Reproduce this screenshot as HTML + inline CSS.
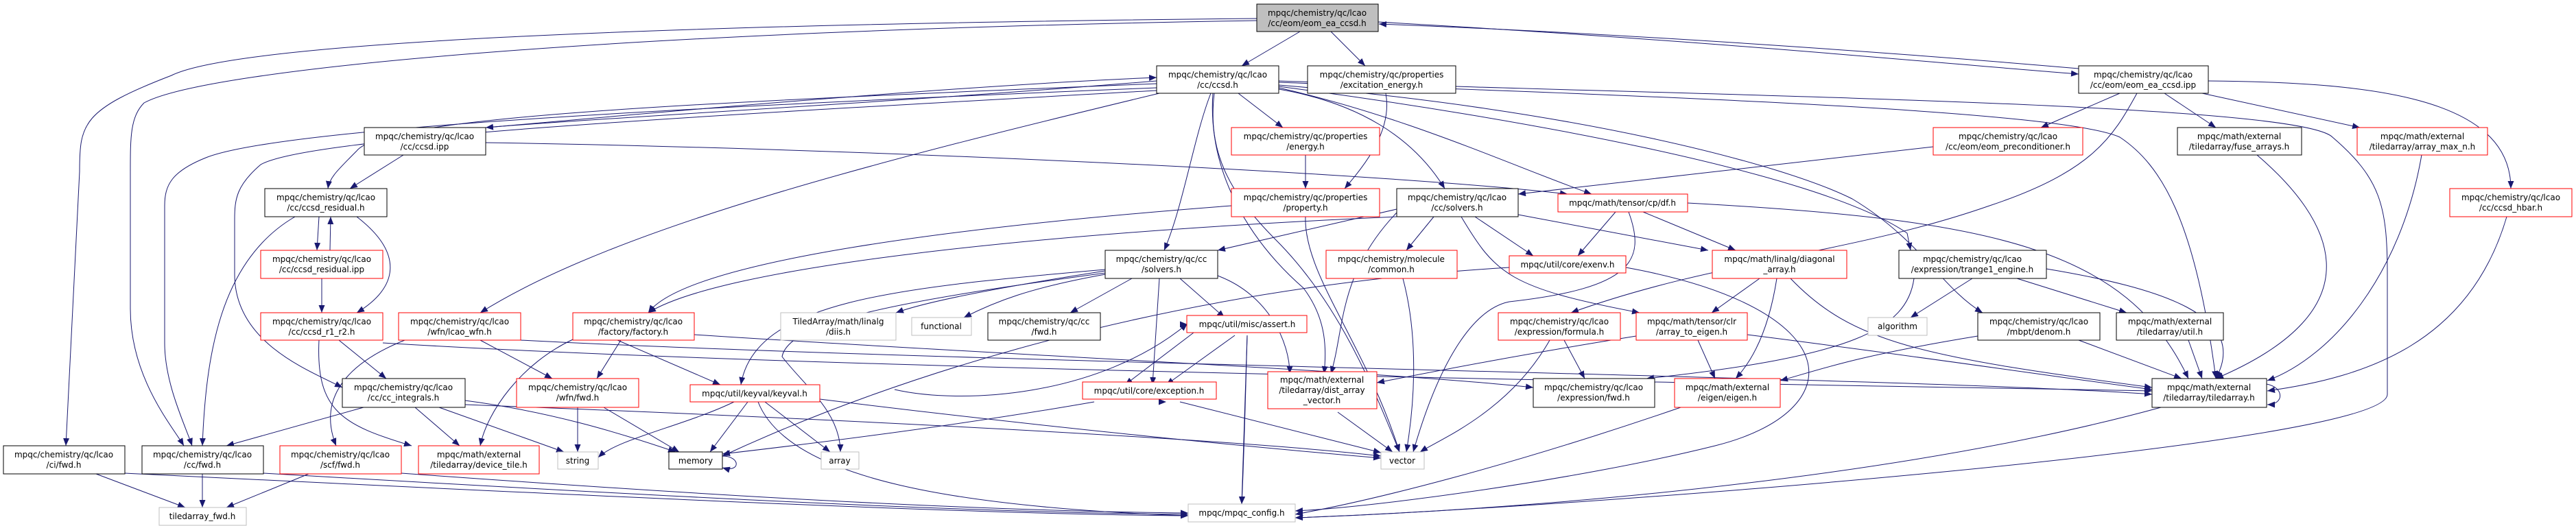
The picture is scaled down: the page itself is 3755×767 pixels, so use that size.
<!DOCTYPE html>
<html><head><meta charset="utf-8"><style>
html,body{margin:0;padding:0;background:#fff}
svg{display:block}
text{font-family:"DejaVu Sans","Liberation Sans",sans-serif;font-size:12px;fill:#000;text-anchor:middle}
.b{fill:#fff;stroke:#000;stroke-width:1}
.r{fill:#fff;stroke:#ff0000;stroke-width:1}
.g{fill:#fff;stroke:#bfbfbf;stroke-width:1}
.e path{fill:none;stroke:#191970;stroke-width:1;marker-end:url(#a)}
</style></head><body>
<svg width="3755" height="767" viewBox="0 0 3755 767" xmlns="http://www.w3.org/2000/svg">
<defs><marker id="a" markerUnits="userSpaceOnUse" markerWidth="12" markerHeight="10" refX="11" refY="4.5" orient="auto"><path d="M0,0 L11,4.5 L0,9 z" fill="#191970"/></marker></defs>
<g class="e">
<path d="M1895,46 L1810,96"/>
<path d="M1940,46 L1990,96"/>
<path d="M2009,32 C2500,60 2800,90 3030,108"/>
<path d="M3030,100 C2800,80 2400,50 2010,35"/>
<path d="M1833,27 C1000,35 350,60 250,110 C120,160 116,180 116,250 L96,650"/>
<path d="M1833,30 C900,45 300,100 210,150 C190,170 190,200 190,250 L190,450 C190,550 250,620 268,650"/>
<path d="M1686,118 C1300,150 900,170 708,186"/>
<path d="M710,186 C1000,160 1400,125 1686,113"/>
<path d="M1686,122 C1000,150 560,170 520,220 C490,250 480,260 478,275"/>
<path d="M1686,128 C900,160 400,190 300,230 C250,250 240,270 240,300 L240,500 C240,560 270,620 280,650"/>
<path d="M1686,132 C1000,170 450,200 380,240 C345,270 342,290 342,320 L342,400 C342,500 450,540 499,565"/>
<path d="M1690,136 C1300,230 900,330 700,456"/>
<path d="M1805,136 L1870,186"/>
<path d="M1864,130 C1980,150 2060,200 2106,275"/>
<path d="M1864,128 C2050,170 2200,240 2320,283"/>
<path d="M1765,136 C1740,200 1725,300 1697,365"/>
<path d="M1864,126 C2200,170 2650,250 2780,340 L2785,365"/>
<path d="M1864,124 C2300,160 2600,240 2700,290 C2800,350 2830,420 2890,456"/>
<path d="M1864,120 C2400,140 3000,160 3090,200 C3150,240 3200,320 3230,552"/>
<path d="M1770,136 C1760,220 1790,280 1860,350 C1950,440 2000,560 2040,659"/>
<path d="M1768,136 C1760,250 1820,350 1900,420 C1930,460 1935,500 1930,545"/>
<path d="M1864,118 C2500,140 3350,150 3400,200 C3470,260 3480,300 3480,400 L3480,575 C3480,650 2300,740 1888,755"/>
<path d="M588,226 L510,275"/>
<path d="M708,208 C1200,215 2000,250 2285,283"/>
<path d="M465,316 L462,365"/>
<path d="M481,365 L482,316"/>
<path d="M520,316 C590,370 580,420 520,456"/>
<path d="M430,316 C320,380 300,520 295,650"/>
<path d="M469,406 L469,456"/>
<path d="M494,496 L563,552"/>
<path d="M465,496 C460,600 500,620 600,650"/>
<path d="M558,500 C1200,540 2600,560 3137,570"/>
<path d="M700,496 L805,552"/>
<path d="M590,496 C480,540 470,600 490,650"/>
<path d="M759,496 C1400,530 2800,550 3137,575"/>
<path d="M905,496 L870,552"/>
<path d="M900,496 L1050,561"/>
<path d="M835,495 C760,530 710,600 700,650"/>
<path d="M1012,488 C1500,520 2000,540 2235,565"/>
<path d="M2020,136 C2030,190 1990,240 1960,275"/>
<path d="M1903,226 L1903,275"/>
<path d="M1903,316 C1900,400 1990,500 2040,659"/>
<path d="M1795,300 C1400,330 1000,380 945,456"/>
<path d="M3090,136 L2975,186"/>
<path d="M3155,136 L3230,186"/>
<path d="M3210,136 L3440,186"/>
<path d="M3219,118 C3450,120 3660,140 3660,275"/>
<path d="M3115,136 C3080,200 3050,250 2900,300 C2700,370 2500,380 2290,456"/>
<path d="M2818,214 L2213,283"/>
<path d="M3290,226 C3400,320 3470,450 3230,552"/>
<path d="M3530,226 C3500,400 3400,520 3305,555"/>
<path d="M3654,316 C3600,500 3450,550 3305,570"/>
<path d="M2036,305 L1775,365"/>
<path d="M2090,316 L2050,365"/>
<path d="M2150,316 L2235,373"/>
<path d="M2213,313 L2490,365"/>
<path d="M2130,316 C2180,400 2200,420 2390,456"/>
<path d="M2036,316 C1500,340 1050,390 945,456"/>
<path d="M2036,310 C1950,400 1960,480 1940,545"/>
<path d="M2355,309 L2300,373"/>
<path d="M2395,309 L2530,365"/>
<path d="M2374,309 C2400,380 2380,420 2200,440 C2150,450 2100,520 2060,659"/>
<path d="M2460,296 C2900,320 3100,360 3190,552"/>
<path d="M2045,406 C2070,500 2060,600 2050,659"/>
<path d="M2200,390 C1700,420 1300,550 1053,665"/>
<path d="M2370,390 C2700,450 2700,600 2500,650 C2300,700 2000,740 1888,745"/>
<path d="M2565,406 L2495,456"/>
<path d="M2590,406 C2580,470 2560,520 2530,552"/>
<path d="M2610,406 C2700,500 2800,520 3137,565"/>
<path d="M2875,406 L2785,463"/>
<path d="M2940,406 L3100,456"/>
<path d="M2790,406 C2780,480 2700,520 2400,552"/>
<path d="M2983,392 C3150,420 3280,460 3230,552"/>
<path d="M2280,496 L2310,552"/>
<path d="M2259,496 C2200,600 2100,640 2070,659"/>
<path d="M2385,490 C2200,520 2100,540 2007,558"/>
<path d="M1611,395 C1450,420 1350,440 1306,456"/>
<path d="M1611,400 C1500,420 1450,440 1405,463"/>
<path d="M1650,406 L1560,456"/>
<path d="M1720,406 L1785,463"/>
<path d="M1611,393 C1300,420 1100,440 1080,561"/>
<path d="M1690,406 L1680,561"/>
<path d="M1775,402 C1850,430 1880,500 1880,545"/>
<path d="M1611,398 C1300,440 1150,470 1140,520 C1170,560 1225,600 1225,659"/>
<path d="M1800,489 L1700,561"/>
<path d="M1818,489 L1810,735"/>
<path d="M2475,496 L2500,552"/>
<path d="M2547,488 C2800,520 3000,550 3137,568"/>
<path d="M2883,490 C2700,520 2650,540 2595,555"/>
<path d="M3030,496 L3180,552"/>
<path d="M3190,496 L3210,552"/>
<path d="M530,594 L330,650"/>
<path d="M605,594 L670,650"/>
<path d="M640,594 L822,659"/>
<path d="M678,584 C800,600 900,630 985,659"/>
<path d="M678,590 C1200,610 1800,640 2013,665"/>
<path d="M842,594 L842,659"/>
<path d="M880,594 L990,659"/>
<path d="M1090,586 L1035,659"/>
<path d="M1115,586 L1210,659"/>
<path d="M1070,586 C1000,620 900,640 872,667"/>
<path d="M1195,582 C1500,620 1800,650 2013,668"/>
<path d="M1105,586 C1150,700 1400,740 1732,752"/>
<path d="M1595,586 C1400,620 1200,645 1053,662"/>
<path d="M1720,586 L2013,660"/>
<path d="M1950,601 L2030,659"/>
<path d="M1700,586 L1700,586"/>
<path d="M2450,594 C2200,680 2000,730 1888,750"/>
<path d="M3150,594 C2800,690 2300,740 1888,755"/>
<path d="M140,691 L270,740"/>
<path d="M182,690 C800,720 1400,750 1732,752"/>
<path d="M295,691 L295,740"/>
<path d="M384,690 C900,720 1400,748 1732,750"/>
<path d="M450,691 L330,740"/>
<path d="M585,690 C1000,720 1400,745 1732,748"/>
<path d="M1731,473 L1731,473"/>
<path d="M1818,489 C1815,600 1812,700 1810,735"/>
<path d="M1740,485 L1640,561"/>
<path d="M1304,568 C1400,590 1600,580 1731,472"/>
<path d="M3304,560 C3330,565 3330,590 3305,590"/>
<path d="M1053,665 C1080,665 1080,690 1053,682"/>
</g>
<g>
<rect x="1832" y="6" width="177" height="40" fill="#bfbfbf" stroke="#000"/><text x="1920" y="23">mpqc/chemistry/qc/lcao</text><text x="1920" y="38">/cc/eom/eom_ea_ccsd.h</text>
<rect class="b" x="1686" y="96" width="178" height="40"/><text x="1775" y="113">mpqc/chemistry/qc/lcao</text><text x="1775" y="128">/cc/ccsd.h</text>
<rect class="b" x="1906" y="96" width="216" height="40"/><text x="2014" y="113">mpqc/chemistry/qc/properties</text><text x="2014" y="128">/excitation_energy.h</text>
<rect class="b" x="3030" y="96" width="189" height="40"/><text x="3124" y="113">mpqc/chemistry/qc/lcao</text><text x="3124" y="128">/cc/eom/eom_ea_ccsd.ipp</text>
<rect class="b" x="531" y="186" width="177" height="40"/><text x="619" y="203">mpqc/chemistry/qc/lcao</text><text x="619" y="218">/cc/ccsd.ipp</text>
<rect class="r" x="1795" y="186" width="216" height="40"/><text x="1903" y="203">mpqc/chemistry/qc/properties</text><text x="1903" y="218">/energy.h</text>
<rect class="r" x="2818" y="186" width="218" height="40"/><text x="2927" y="203">mpqc/chemistry/qc/lcao</text><text x="2927" y="218">/cc/eom/eom_preconditioner.h</text>
<rect class="b" x="3174" y="186" width="181" height="40"/><text x="3264" y="203">mpqc/math/external</text><text x="3264" y="218">/tiledarray/fuse_arrays.h</text>
<rect class="r" x="3436" y="186" width="190" height="40"/><text x="3531" y="203">mpqc/math/external</text><text x="3531" y="218">/tiledarray/array_max_n.h</text>
<rect class="r" x="3571" y="275" width="178" height="41"/><text x="3660" y="292">mpqc/chemistry/qc/lcao</text><text x="3660" y="307">/cc/ccsd_hbar.h</text>
<rect class="b" x="386" y="275" width="178" height="41"/><text x="475" y="292">mpqc/chemistry/qc/lcao</text><text x="475" y="307">/cc/ccsd_residual.h</text>
<rect class="r" x="1795" y="275" width="216" height="41"/><text x="1903" y="292">mpqc/chemistry/qc/properties</text><text x="1903" y="307">/property.h</text>
<rect class="b" x="2036" y="275" width="177" height="41"/><text x="2124" y="292">mpqc/chemistry/qc/lcao</text><text x="2124" y="307">/cc/solvers.h</text>
<rect class="r" x="2271" y="283" width="189" height="26"/><text x="2365" y="300">mpqc/math/tensor/cp/df.h</text>
<rect class="r" x="380" y="365" width="178" height="41"/><text x="469" y="382">mpqc/chemistry/qc/lcao</text><text x="469" y="397">/cc/ccsd_residual.ipp</text>
<rect class="b" x="1611" y="365" width="164" height="41"/><text x="1693" y="382">mpqc/chemistry/qc/cc</text><text x="1693" y="397">/solvers.h</text>
<rect class="r" x="1933" y="365" width="191" height="41"/><text x="2028" y="382">mpqc/chemistry/molecule</text><text x="2028" y="397">/common.h</text>
<rect class="r" x="2200" y="373" width="170" height="25"/><text x="2285" y="390">mpqc/util/core/exenv.h</text>
<rect class="r" x="2496" y="365" width="196" height="41"/><text x="2594" y="382">mpqc/math/linalg/diagonal</text><text x="2594" y="397">_array.h</text>
<rect class="b" x="2768" y="365" width="215" height="41"/><text x="2875" y="382">mpqc/chemistry/qc/lcao</text><text x="2875" y="397">/expression/trange1_engine.h</text>
<rect class="r" x="380" y="456" width="178" height="40"/><text x="469" y="473">mpqc/chemistry/qc/lcao</text><text x="469" y="488">/cc/ccsd_r1_r2.h</text>
<rect class="r" x="581" y="456" width="178" height="40"/><text x="670" y="473">mpqc/chemistry/qc/lcao</text><text x="670" y="488">/wfn/lcao_wfn.h</text>
<rect class="r" x="835" y="456" width="177" height="40"/><text x="923" y="473">mpqc/chemistry/qc/lcao</text><text x="923" y="488">/factory/factory.h</text>
<rect class="g" x="1138" y="456" width="168" height="40"/><text x="1222" y="473">TiledArray/math/linalg</text><text x="1222" y="488">/diis.h</text>
<rect class="g" x="1329" y="463" width="87" height="26"/><text x="1372" y="480">functional</text>
<rect class="b" x="1440" y="456" width="164" height="40"/><text x="1522" y="473">mpqc/chemistry/qc/cc</text><text x="1522" y="488">/fwd.h</text>
<rect class="r" x="1730" y="460" width="175" height="25"/><text x="1818" y="477">mpqc/util/misc/assert.h</text>
<rect class="r" x="2184" y="456" width="178" height="40"/><text x="2273" y="473">mpqc/chemistry/qc/lcao</text><text x="2273" y="488">/expression/formula.h</text>
<rect class="r" x="2385" y="456" width="162" height="40"/><text x="2466" y="473">mpqc/math/tensor/clr</text><text x="2466" y="488">/array_to_eigen.h</text>
<rect class="g" x="2723" y="463" width="86" height="26"/><text x="2766" y="480">algorithm</text>
<rect class="b" x="2883" y="456" width="178" height="40"/><text x="2972" y="473">mpqc/chemistry/qc/lcao</text><text x="2972" y="488">/mbpt/denom.h</text>
<rect class="b" x="3085" y="456" width="156" height="40"/><text x="3163" y="473">mpqc/math/external</text><text x="3163" y="488">/tiledarray/util.h</text>
<rect class="b" x="499" y="552" width="179" height="42"/><text x="588" y="569">mpqc/chemistry/qc/lcao</text><text x="588" y="584">/cc/cc_integrals.h</text>
<rect class="r" x="753" y="552" width="178" height="42"/><text x="842" y="569">mpqc/chemistry/qc/lcao</text><text x="842" y="584">/wfn/fwd.h</text>
<rect class="r" x="1006" y="561" width="189" height="25"/><text x="1100" y="578">mpqc/util/keyval/keyval.h</text>
<rect class="r" x="1578" y="557" width="195" height="25"/><text x="1675" y="574">mpqc/util/core/exception.h</text>
<rect class="r" x="1848" y="542" width="159" height="54"/><text x="1927" y="558">mpqc/math/external</text><text x="1927" y="573">/tiledarray/dist_array</text><text x="1927" y="588">_vector.h</text>
<rect class="b" x="2235" y="552" width="177" height="42"/><text x="2323" y="569">mpqc/chemistry/qc/lcao</text><text x="2323" y="584">/expression/fwd.h</text>
<rect class="r" x="2441" y="552" width="154" height="42"/><text x="2518" y="569">mpqc/math/external</text><text x="2518" y="584">/eigen/eigen.h</text>
<rect class="b" x="3137" y="552" width="167" height="42"/><text x="3220" y="569">mpqc/math/external</text><text x="3220" y="584">/tiledarray/tiledarray.h</text>
<rect class="b" x="5" y="650" width="177" height="41"/><text x="93" y="667">mpqc/chemistry/qc/lcao</text><text x="93" y="682">/ci/fwd.h</text>
<rect class="b" x="207" y="650" width="177" height="41"/><text x="295" y="667">mpqc/chemistry/qc/lcao</text><text x="295" y="682">/cc/fwd.h</text>
<rect class="r" x="408" y="650" width="177" height="41"/><text x="496" y="667">mpqc/chemistry/qc/lcao</text><text x="496" y="682">/scf/fwd.h</text>
<rect class="r" x="610" y="650" width="176" height="41"/><text x="698" y="667">mpqc/math/external</text><text x="698" y="682">/tiledarray/device_tile.h</text>
<rect class="g" x="813" y="659" width="59" height="25"/><text x="842" y="676">string</text>
<rect class="b" x="975" y="659" width="78" height="25"/><text x="1014" y="676">memory</text>
<rect class="g" x="1197" y="659" width="55" height="25"/><text x="1224" y="676">array</text>
<rect class="g" x="2013" y="659" width="63" height="25"/><text x="2044" y="676">vector</text>
<rect class="g" x="232" y="740" width="127" height="26"/><text x="295" y="757">tiledarray_fwd.h</text>
<rect class="g" x="1732" y="735" width="156" height="26"/><text x="1810" y="752">mpqc/mpqc_config.h</text>
</g>
</svg>
</body></html>
